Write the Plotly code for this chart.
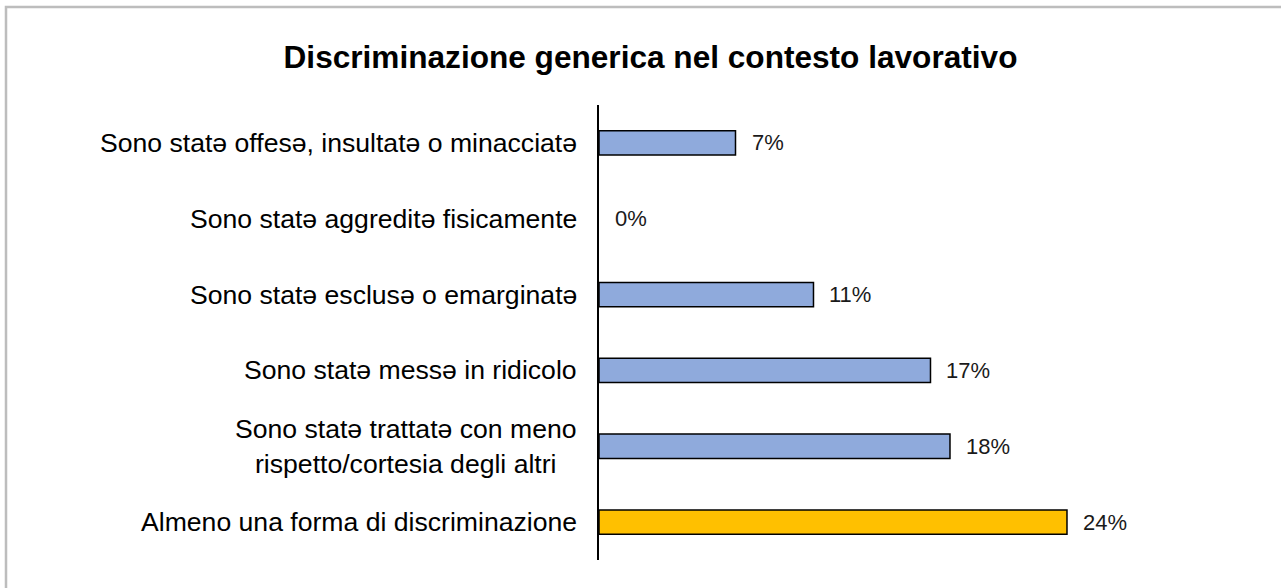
import plotly.graph_objects as go

categories = [
    "Sono statə offesə, insultatə o minacciatə",
    "Sono statə aggreditə fisicamente",
    "Sono statə esclusə o emarginatə",
    "Sono statə messə in ridicolo",
    "Sono statə trattatə con meno<br>rispetto/cortesia degli altri",
    "Almeno una forma di discriminazione",
]
values = [7, 0, 11, 17, 18, 24]
value_labels = ["7%", "0%", "11%", "17%", "18%", "24%"]
bar_colors = ["#8FAADC", "#8FAADC", "#8FAADC", "#8FAADC", "#8FAADC", "#FFC000"]

FONT = "Liberation Sans, Arial, sans-serif"

fig = go.Figure()
fig.add_trace(go.Bar(
    x=values, y=categories, orientation="h",
    marker=dict(color=bar_colors,
                line=dict(color="black", width=[0 if v == 0 else 1.5 for v in values])),
    width=0.32, hoverinfo="skip",
))

annotations = []
for c, v, t in zip(categories, values, value_labels):
    annotations.append(dict(x=v, y=c, xref="x", yref="y", text=t, showarrow=False,
                            xanchor="left", xshift=14,
                            font=dict(family=FONT, size=22, color="#1a1a1a")))
    annotations.append(dict(x=0, y=c, xref="paper", yref="y", text=c, showarrow=False,
                            xanchor="right", xshift=-20, align="center",
                            font=dict(family=FONT, size=26.6, color="black")))

fig.update_layout(
    width=1281, height=588,
    margin=dict(l=599, r=82, t=105, b=28),
    paper_bgcolor="white", plot_bgcolor="white",
    showlegend=False,
    title=dict(text="<b>Discriminazione generica nel contesto lavorativo</b>",
               x=650.5 / 1281, xanchor="center", y=1 - 57 / 588, yanchor="middle",
               font=dict(family=FONT, size=31.6, color="black")),
    xaxis=dict(range=[0, 30.77], visible=False, fixedrange=True),
    yaxis=dict(autorange="reversed", showticklabels=False, showgrid=False,
               showline=True, linecolor="black", linewidth=2, ticks="",
               zeroline=False),
    annotations=annotations,
    shapes=[dict(type="rect", xref="paper", yref="paper",
                 x0=(6 - 599) / 600, x1=2, y0=-1, y1=(560 - 7) / 455,
                 line=dict(color="#BDBDBD", width=2.5), layer="below")],
)

fig.write_html("out.html")
